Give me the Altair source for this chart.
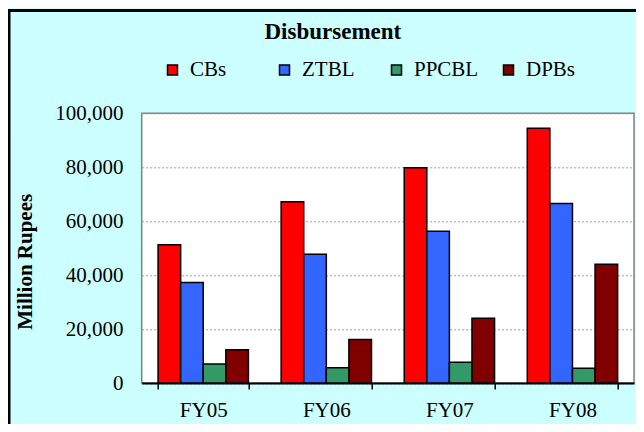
import altair as alt
import pandas as pd

years = ["FY05", "FY06", "FY07", "FY08"]
series = ["CBs", "ZTBL", "PPCBL", "DPBs"]
cbs = [51300, 67200, 79800, 94500]
ztbl = [37300, 47700, 56300, 66600]
ppcbl = [7000, 5700, 7700, 5500]
dpbs = [12300, 16100, 24000, 44000]
colors = ["#FF0000", "#3366FF", "#339966", "#800000"]
y_ticks = [0, 20000, 40000, 60000, 80000, 100000]

rows = []
for name, vals in zip(series, [cbs, ztbl, ppcbl, dpbs]):
    for yr, v in zip(years, vals):
        rows.append({"year": yr, "series": name, "value": v})
df = pd.DataFrame(rows)

W, H = 492.3, 269.7
serif = "Liberation Serif, serif"

bars = alt.Chart(df).mark_bar(stroke="black", strokeWidth=1.5).encode(
    x=alt.X("year:N", sort=years, title=None,
            scale=alt.Scale(paddingInner=0.266, paddingOuter=0.133),
            axis=alt.Axis(labelAngle=0, labelFont=serif, labelFontSize=21,
                          labelColor="black",
                          labelPadding=10, labelBaseline="top", domainColor="black", domainWidth=2,
                          tickColor="black", tickWidth=1.5, tickSize=6, tickBand="extent",
                          grid=False)),
    xOffset=alt.XOffset("series:N", sort=series, scale=alt.Scale(paddingInner=0, paddingOuter=0)),
    y=alt.Y("value:Q", scale=alt.Scale(domain=[0, 100000]), title="Million Rupees",
            axis=alt.Axis(values=y_ticks, format=",.0f", labelFont=serif, labelFontSize=21,
                          labelColor="black", labelPadding=18.7, ticks=False, tickSize=0,
                          domain=False, gridColor="#999999", gridDash=[2, 2], gridWidth=1,
                          titleFont=serif, titleFontSize=21, titleFontWeight="bold",
                          titleColor="black", titleX=-106, titleY=148, titleAngle=270,
                          titleAlign="center", titleBaseline="bottom")),
    color=alt.Color("series:N", sort=series,
                    scale=alt.Scale(domain=series, range=colors),
                    legend=alt.Legend(title=None, orient="none", legendX=20.3, legendY=-54,
                                      direction="horizontal", columns=4, symbolType="square",
                                      symbolSize=100, symbolStrokeColor="black",
                                      symbolStrokeWidth=1.5, labelFont=serif,
                                      labelFontSize=21,
                                      labelColor="black", labelOffset=7, columnPadding=19,
                                      gridAlign="all", padding=0)),
)

frame = alt.Chart(pd.DataFrame({"f": [0]})).mark_rect(
    fillOpacity=0, stroke="black", strokeWidth=3
).encode(
    x=alt.value(-132.7), x2=alt.value(W + 20), y=alt.value(-102.8), y2=alt.value(H + 80)
)

chart = alt.layer(frame, bars).properties(
    width=W, height=H,
    title=alt.TitleParams("Disbursement", font=serif, fontSize=23, fontWeight="bold",
                          color="black", anchor="middle", baseline="alphabetic",
                          dx=-55, dy=63, offset=10),
    background="#CCFFFF",
    autosize=alt.AutoSizeParams(type="none"),
    padding={"left": 133.7, "top": 105.3, "right": 2, "bottom": 41},
).configure_view(fill="white", stroke="#808080", strokeWidth=1.5)

chart.save("out.html", embed_options={"renderer": "svg", "actions": False})
